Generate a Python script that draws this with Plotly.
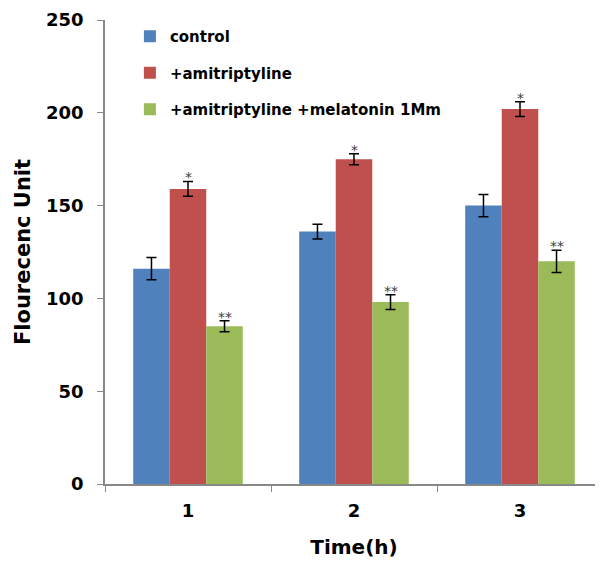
import plotly.graph_objects as go

categories = ["1", "2", "3"]
control = [116, 136, 150]
control_err = [6, 4, 6]
amitriptyline = [159, 175, 202]
amitriptyline_err = [4, 3, 4]
amit_melatonin = [85, 98, 120]
amit_melatonin_err = [3, 4, 6]
red_marks = ["*", "*", "*"]
green_marks = ["**", "**", "**"]

series = [
    ("control", control, control_err, "#4F81BD"),
    ("+amitriptyline", amitriptyline, amitriptyline_err, "#C0504D"),
    ("+amitriptyline +melatonin 1Mm", amit_melatonin, amit_melatonin_err, "#9BBB59"),
]

FONT = "DejaVu Sans"
bargap = 0.34

fig = go.Figure()
for i, (name, vals, errs, col) in enumerate(series):
    fig.add_trace(go.Bar(
        x=categories, y=vals, name=name, marker_color=col,
        marker_line_width=0, legendgroup=f"g{i}",
        error_y=dict(type="data", array=errs, color="black", thickness=1.5, width=5),
    ))

# significance marks (category axis: annotations use category index)
bar_w = (1 - bargap) / len(series)
for k, (vals, errs, marks) in enumerate([(amitriptyline, amitriptyline_err, red_marks),
                                          (amit_melatonin, amit_melatonin_err, green_marks)]):
    for ci, (v, e, m) in enumerate(zip(vals, errs, marks)):
        fig.add_annotation(x=ci + k * bar_w, y=v + e, text=m, showarrow=False,
                           xref="x", yref="y", yanchor="bottom", yshift=-6,
                           font=dict(family=FONT, size=14, color="#404040"))

# page body has an 8px margin, so the figure is sized to fill the rest of the window
fig.update_layout(
    width=595, height=554,
    margin=dict(l=97, r=0, t=12, b=78, autoexpand=False),
    plot_bgcolor="white", paper_bgcolor="white",
    barmode="group", bargap=bargap, bargroupgap=0,
    font=dict(family=FONT, color="black"),
    legend=dict(x=0.05, y=1.0, xanchor="left", yanchor="top",
                font=dict(family=FONT, size=15, color="black", weight="bold"),
                tracegroupgap=14, traceorder="grouped", bgcolor="rgba(0,0,0,0)",
                itemwidth=30),
    xaxis=dict(
        automargin=False,
        showline=True, linecolor="#888888", linewidth=1.5,
        ticks="outside", tickson="boundaries", ticklen=6, tickcolor="#888888",
        ticklabelstandoff=10,
        tickfont=dict(family=FONT, size=18, color="black", weight="bold"),
        title=dict(text="Time(h)", font=dict(family=FONT, size=20, color="black", weight="bold"),
                   standoff=20),
        range=[-0.5, 2.5],
    ),
    yaxis=dict(
        automargin=False,
        range=[0, 250], tickvals=[0, 50, 100, 150, 200, 250],
        showline=True, linecolor="#888888", linewidth=1.5,
        ticks="outside", ticklen=6, tickcolor="#888888", showgrid=False, zeroline=False,
        ticklabelstandoff=10,
        tickfont=dict(family=FONT, size=18, color="black", weight="bold"),
        title=dict(text="Flourecenc Unit", font=dict(family=FONT, size=21, color="black", weight="bold"),
                   standoff=10),
    ),
)

fig.write_html("out.html")
